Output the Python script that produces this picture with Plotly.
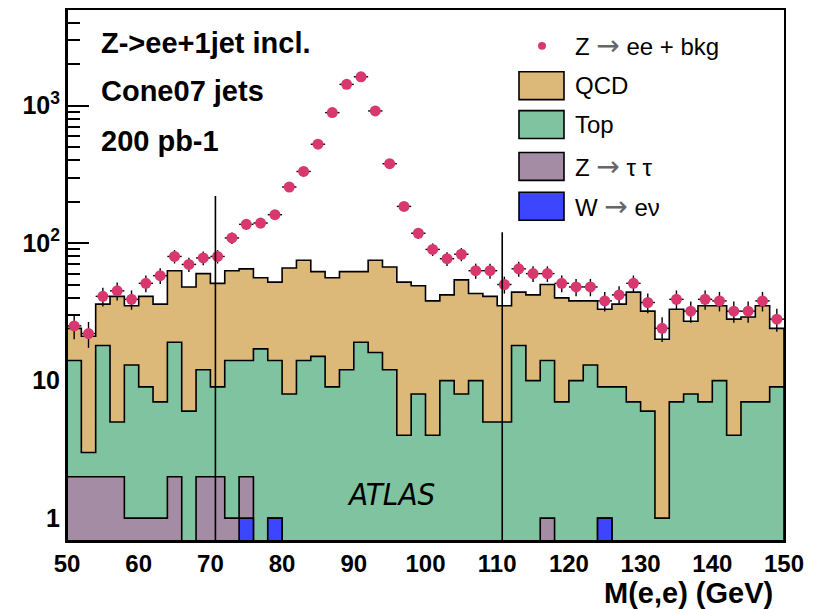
import numpy as np
import plotly.graph_objects as go

# ---------------- data (bins of 2 GeV from 50 to 150) ----------------
bin_edges = list(range(50, 152, 2))

data_counts = [25, 22, 41, 45, 39, 51, 58, 80, 70, 78,
               80, 109, 137, 140, 161, 256, 332, 524, 890, 1428,
               1622, 915, 378, 185, 118, 90, 77, 83, 63, 63,
               50, 65, 60, 60, 51, 48, 48, 38, 42, 51,
               37, 24, 39, 32, 39, 38, 32, 32, 38, 28]

qcd = [10, 18, 18, 36, 22, 32, 29, 44, 42, 48,
       42, 49, 51, 39, 38, 58, 61, 47, 47, 50,
       43, 59, 55, 48, 41, 34, 32, 46, 33, 36,
       30, 26, 32, 36, 33, 28, 25, 24, 27, 37,
       26, 19, 26, 19, 28, 25, 24, 22, 28, 15]

top = [12, 1, 16, 3, 12, 8, 6, 17, 6, 10,
       7, 13, 12, 17, 13, 8, 14, 15, 9, 12,
       19, 16, 12, 4, 8, 4, 10, 8, 10, 5,
       5, 18, 10, 13, 7, 10, 13, 8, 9, 7,
       6, 1, 7, 8, 7, 10, 4, 7, 7, 9]

ztautau = [2, 2, 2, 2, 1, 1, 1, 2, 0, 2,
           2, 1, 1, 0, 0, 0, 0, 0, 0, 0,
           0, 0, 0, 0, 0, 0, 0, 0, 0, 0,
           0, 0, 0, 1, 0, 0, 0, 0, 0, 0,
           0, 0, 0, 0, 0, 0, 0, 0, 0, 0]

wenu = [0, 0, 0, 0, 0, 0, 0, 0, 0, 0,
        0, 0, 1, 0, 1, 0, 0, 0, 0, 0,
        0, 0, 0, 0, 0, 0, 0, 0, 0, 0,
        0, 0, 0, 0, 0, 0, 0, 1, 0, 0,
        0, 0, 0, 0, 0, 0, 0, 0, 0, 0]

cut_positions = [70.7, 110.7]
cut_heights = [220, 120]

x_ticks = [50, 60, 70, 80, 90, 100, 110, 120, 130, 140, 150]
y_ticks = [1, 10, 100, 1000]
y_ticktext = ["1", "10", "10<sup>2</sup>", "10<sup>3</sup>"]

# ---------------- styling ----------------
FLOOR = 0.1
C_DATA = "#d8386e"
C_QCD = "#dcb978"
C_TOP = "#80c3a0"
C_ZTT = "#a58ca5"
C_W = "#3c46ff"
FONT = "Liberation Sans, Arial, Helvetica, sans-serif"
ARROW = "<span style='font-family:DejaVu Sans;font-size:28px;color:#666'>→</span>"

W_, H_ = 816, 609
ML, MR, MT, MB = 67, 32, 8, 68
PW, PH = W_ - ML - MR, H_ - MT - MB


def px(xp):
    return (xp - ML) / PW


def py(yp):
    return (H_ - MB - yp) / PH


def step_polygon(vals):
    xs, ys = [bin_edges[0]], [FLOOR]
    for i, v in enumerate(vals):
        v = v if v > 0 else FLOOR
        xs += [bin_edges[i], bin_edges[i + 1]]
        ys += [v, v]
    xs.append(bin_edges[-1])
    ys.append(FLOOR)
    return xs, ys


cum_w = np.array(wenu, float)
cum_ztt = cum_w + np.array(ztautau, float)
cum_top = cum_ztt + np.array(top, float)
cum_qcd = cum_top + np.array(qcd, float)

fig = go.Figure()
for cum, col in [(cum_qcd, C_QCD), (cum_top, C_TOP), (cum_ztt, C_ZTT), (cum_w, C_W)]:
    xs, ys = step_polygon(list(cum))
    fig.add_trace(go.Scatter(x=xs, y=ys, mode="lines", fill="toself",
                             fillcolor=col, line=dict(color="black", width=1.6),
                             hoverinfo="skip", showlegend=False))

centers = [(bin_edges[i] + bin_edges[i + 1]) / 2 for i in range(len(data_counts))]
fig.add_trace(go.Scatter(
    x=centers, y=data_counts, mode="markers",
    marker=dict(color=C_DATA, size=11),
    error_y=dict(type="data", array=list(np.sqrt(data_counts)), color="black",
                 thickness=1.4, width=0),
    error_x=dict(type="constant", value=1, color="black", thickness=1.4, width=0),
    showlegend=False))

for cx, ch in zip(cut_positions, cut_heights):
    fig.add_trace(go.Scatter(x=[cx, cx], y=[FLOOR, ch], mode="lines",
                             line=dict(color="black", width=1.6),
                             hoverinfo="skip", showlegend=False))

shapes = []
shapes.append(dict(type="line", xref="paper", yref="paper", x0=0, x1=1, y0=0, y1=0,
                   line=dict(color="black", width=2), layer="above"))
shapes.append(dict(type="line", xref="paper", yref="paper", x0=0, x1=0, y0=0, y1=1,
                   line=dict(color="black", width=2), layer="above"))

annotations = []
# legend (drawn manually, ROOT style)
shapes.append(dict(type="circle", xref="paper", yref="paper",
                   x0=px(538), x1=px(546), y0=py(48), y1=py(40),
                   fillcolor=C_DATA, line=dict(width=0)))
legend_entries = [("Z " + ARROW + " ee + bkg", None, 44),
                  ("QCD", C_QCD, 84),
                  ("Top", C_TOP, 123),
                  ("Z " + ARROW + " τ τ", C_ZTT, 165),
                  ("W " + ARROW + " eν", C_W, 205)]
for label, col, yc in legend_entries:
    if col is not None:
        shapes.append(dict(type="rect", xref="paper", yref="paper",
                           x0=px(519), x1=px(564), y0=py(yc + 14), y1=py(yc - 14),
                           fillcolor=col, line=dict(color="black", width=1.6)))
    annotations.append(dict(text=label, xref="paper", yref="paper", x=px(573), y=py(yc),
                            xanchor="left", yanchor="middle", showarrow=False,
                            font=dict(family=FONT, size=24, color="black")))

for txt, yc in [("Z->ee+1jet incl.", 41), ("Cone07 jets", 89), ("200 pb-1", 139)]:
    annotations.append(dict(text="<b>" + txt + "</b>", xref="paper", yref="paper",
                            x=px(99), y=py(yc), xanchor="left", yanchor="middle",
                            showarrow=False, font=dict(family=FONT, size=29, color="black")))

annotations.append(dict(text="<i>ATLAS</i>", xref="paper", yref="paper",
                        x=px(391), y=py(494), xanchor="center", yanchor="middle",
                        showarrow=False,
                        font=dict(family="Liberation Sans Narrow, DejaVu Sans Condensed, Liberation Sans",
                                  size=31, color="black")))

annotations.append(dict(text="<b>M(e,e) (GeV)</b>", xref="paper", yref="paper",
                        x=px(775), y=py(593), xanchor="right", yanchor="middle",
                        showarrow=False, font=dict(family=FONT, size=29, color="black")))

fig.update_layout(
    width=W_, height=H_,
    margin=dict(l=ML, r=MR, t=MT, b=MB, pad=0),
    paper_bgcolor="white", plot_bgcolor="white",
    shapes=shapes, annotations=annotations,
    showlegend=False,
    xaxis=dict(range=[50, 150], tickvals=x_ticks, ticks="inside", ticklen=14,
               tickwidth=1.5, tickcolor="black", showgrid=False, zeroline=False,
               showline=True, linecolor="black", linewidth=2, mirror=True,
               layer="below traces",
               tickfont=dict(family=FONT, size=24, color="black", weight="bold"),
               minor=dict(dtick=2, ticks="inside", ticklen=8, tickcolor="black")),
    yaxis=dict(type="log", range=[-0.1667, 3.6957], tickvals=y_ticks, ticktext=y_ticktext,
               ticks="inside", ticklen=22, tickwidth=1.5, tickcolor="black",
               showgrid=False, zeroline=False, showline=True, linecolor="black",
               linewidth=2, mirror=True, layer="below traces",
               tickfont=dict(family=FONT, size=25, color="black", weight="bold"),
               minor=dict(tickvals=[2, 3, 4, 5, 6, 7, 8, 9, 20, 30, 40, 50, 60, 70, 80, 90,
                                    200, 300, 400, 500, 600, 700, 800, 900, 2000, 3000,
                                    4000, 5000], ticks="inside", ticklen=13,
                          tickcolor="black", tickwidth=1.5)),
)

fig.write_html("out.html")
